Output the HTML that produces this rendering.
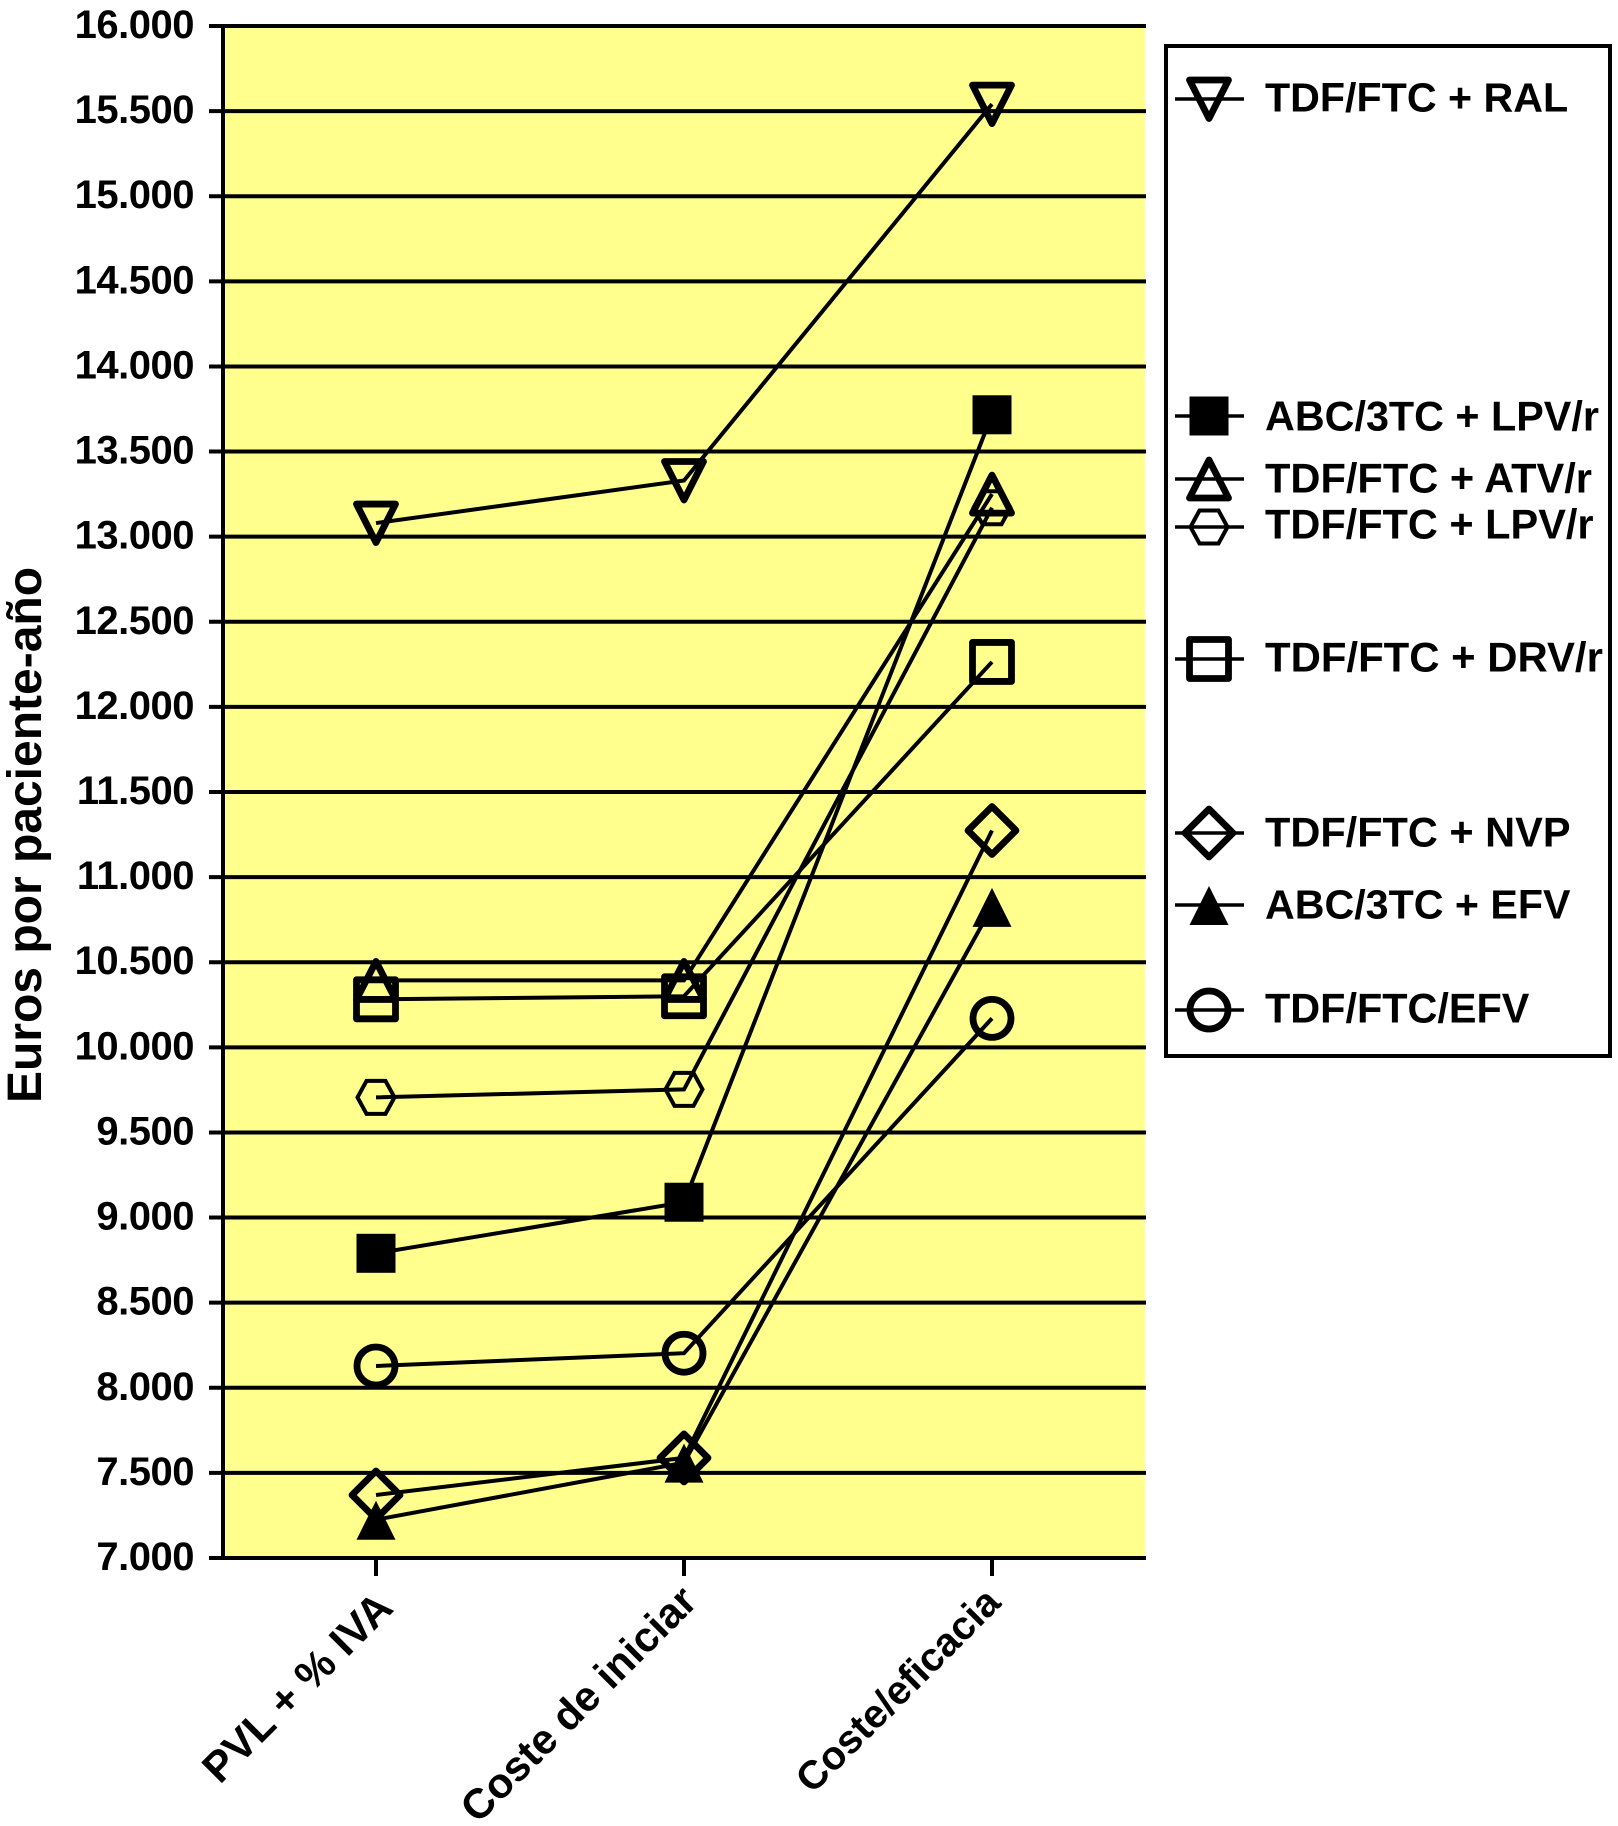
<!DOCTYPE html>
<html lang="es">
<head>
<meta charset="utf-8">
<title>Euros por paciente-año</title>
<style>
html,body{margin:0;padding:0;background:#fff;}
svg{display:block;}
text{font-family:"Liberation Sans",Arial,sans-serif;font-weight:bold;fill:#000;}
</style>
</head>
<body>
<svg id="chart" xmlns="http://www.w3.org/2000/svg" width="1618" height="1826" viewBox="0 0 1618 1826"></svg>
<script>
const categories = ['PVL + % IVA', 'Coste de iniciar', 'Coste/eficacia'];
const yTickValues = [7000, 7500, 8000, 8500, 9000, 9500, 10000, 10500, 11000, 11500, 12000, 12500, 13000, 13500, 14000, 14500, 15000, 15500, 16000];
const yTickLabels = ['7.000', '7.500', '8.000', '8.500', '9.000', '9.500', '10.000', '10.500', '11.000', '11.500', '12.000', '12.500', '13.000', '13.500', '14.000', '14.500', '15.000', '15.500', '16.000'];
const valuesRal = [13080, 13330, 15541];
const valuesAbcLpv = [8790, 9090, 13716];
const valuesAtv = [10393, 10393, 13250];
const valuesTdfLpv = [9706, 9753, 13170];
const valuesDrv = [10282, 10300, 12264];
const valuesNvp = [7370, 7588, 11274];
const valuesEfv = [7225, 7560, 10825];
const valuesTdfEfv = [8128, 8203, 10170];

const NS = 'http://www.w3.org/2000/svg';
const svg = document.getElementById('chart');
const plotLeft = 223, plotRight = 1147, plotTop = 26, plotBottom = 1558;
const bandLeft = 222, bandRight = 1146;
const yMin = 7000, yMax = 16000;

function yScale(v) {
  return plotBottom - (v - yMin) / (yMax - yMin) * (plotBottom - plotTop);
}
function xScale(i) {
  return bandLeft + (i + 0.5) / categories.length * (bandRight - bandLeft);
}
function make(tag, attrs, parent) {
  const el = document.createElementNS(NS, tag);
  for (const k in attrs) el.setAttribute(k, attrs[k]);
  (parent || svg).appendChild(el);
  return el;
}
function hline(parent, x1, x2, y, w) {
  return make('line', {x1: x1, x2: x2, y1: y, y2: y, stroke: '#000', 'stroke-width': w}, parent);
}
function pts(list, cx, cy) {
  return list.map(function (p) { return (cx + p[0]) + ',' + (cy + p[1]); }).join(' ');
}
function drawMarker(parent, type, cx, cy) {
  const open = {fill: 'none', stroke: '#000', 'stroke-width': 6.8, 'stroke-linejoin': 'round'};
  let m;
  if (type === 'triangle-down') {
    m = make('polygon', Object.assign({points: pts([[-19.5, -19], [19.5, -19], [0, 19.5]], cx, cy)}, open), parent);
  } else if (type === 'triangle-up') {
    m = make('polygon', Object.assign({points: pts([[0, -19], [-19.5, 19], [19.5, 19]], cx, cy)}, open), parent);
  } else if (type === 'square-filled') {
    m = make('rect', {x: cx - 19.5, y: cy - 19.5, width: 39, height: 39, fill: '#000'}, parent);
  } else if (type === 'square-open') {
    m = make('rect', Object.assign({x: cx - 19.5, y: cy - 19.5, width: 39, height: 39}, open), parent);
  } else if (type === 'hexagon') {
    m = make('polygon', {points: pts([[-18.5, 0], [-9.5, -16.5], [9.5, -16.5], [18.5, 0], [9.5, 16.5], [-9.5, 16.5]], cx, cy), fill: 'none', stroke: '#000', 'stroke-width': 4}, parent);
  } else if (type === 'diamond') {
    m = make('polygon', Object.assign({points: pts([[0, -24], [24, 0], [0, 24], [-24, 0]], cx, cy)}, open), parent);
  } else if (type === 'triangle-filled') {
    m = make('polygon', {points: pts([[0, -19], [-19.5, 20], [19.5, 20]], cx, cy), fill: '#000'}, parent);
  } else {
    m = make('circle', Object.assign({cx: cx, cy: cy, r: 19}, open), parent);
  }
  
  
  return m;
}

/* plot background */
const plotBg = make('rect', {x: plotLeft, y: plotTop, width: plotRight - plotLeft - 2, height: plotBottom - plotTop, fill: '#FFFF8E'});



/* gridlines, y ticks and labels */
yTickValues.forEach(function (v, i) {
  const y = yScale(v);
  const grid = hline(svg, 209, plotRight - 1, y, 4);
  
  
  const label = make('text', {x: 194, y: y + 12, 'text-anchor': 'end', 'font-size': 40, 'letter-spacing': '-0.5'});
  label.textContent = yTickLabels[i];
  
  
});

/* axes */
const yAxis = make('line', {x1: plotLeft, x2: plotLeft, y1: plotTop, y2: plotBottom, stroke: '#000', 'stroke-width': 4});



/* x ticks and labels */
function drawCategory(i, dx, dy, size) {
  const x = xScale(i);
  const tick = make('line', {x1: x, x2: x, y1: plotBottom, y2: plotBottom + 18, stroke: '#000', 'stroke-width': 4});
  
  
  const label = make('text', {x: 0, y: 0, 'text-anchor': 'end', 'font-size': size, transform: 'translate(' + (x + dx) + ' ' + (plotBottom + dy) + ') rotate(-45)'});
  label.textContent = categories[i];
  
  
}
drawCategory(0, 19, 52, 42.5);
drawCategory(1, 15, 45.5, 42);
drawCategory(2, 10.5, 46.7, 40);

/* y axis title */
const yTitle = make('text', {x: 0, y: 0, 'text-anchor': 'middle', 'font-size': 48, transform: 'translate(41 835) rotate(-90)'});
yTitle.textContent = 'Euros por paciente-año';



/* series */
function drawSeries(name, values, type) {
  const g = make('g', {});
  
  
  const line = make('polyline', {
    points: values.map(function (v, i) { return xScale(i) + ',' + yScale(v); }).join(' '),
    fill: 'none', stroke: '#000', 'stroke-width': 4
  }, g);
  
  
  values.forEach(function (v, i) {
    drawMarker(g, type, xScale(i), yScale(v));
  });
}
drawSeries('tdf-ftc-ral', valuesRal, 'triangle-down');
drawSeries('abc-3tc-lpv', valuesAbcLpv, 'square-filled');
drawSeries('tdf-ftc-atv', valuesAtv, 'triangle-up');
drawSeries('tdf-ftc-lpv', valuesTdfLpv, 'hexagon');
drawSeries('tdf-ftc-drv', valuesDrv, 'square-open');
drawSeries('tdf-ftc-nvp', valuesNvp, 'diamond');
drawSeries('abc-3tc-efv', valuesEfv, 'triangle-filled');
drawSeries('tdf-ftc-efv', valuesTdfEfv, 'circle');

/* bottom axis on top of the plot */
const xAxis = hline(svg, 209, plotRight - 1, plotBottom, 4);



/* legend */
const legendGroup = make('g', {});


const legendBox = make('rect', {x: 1166, y: 46, width: 444, height: 1010, fill: '#fff', stroke: '#000', 'stroke-width': 4}, legendGroup);



function legendEntry(label, type, lineY, baseline, size) {
  const g = make('g', {}, legendGroup);
  
  
  const sample = hline(g, 1175, 1244, lineY, 3.5);
  
  
  drawMarker(g, type, 1209, lineY);
  const t = make('text', {x: 1265, y: baseline, 'font-size': size}, g);
  t.textContent = label;
  
  
}
legendEntry('TDF/FTC + RAL', 'triangle-down', 99, 111.5, 41.2);
legendEntry('ABC/3TC + LPV/r', 'square-filled', 416, 430.5, 41.3);
legendEntry('TDF/FTC + ATV/r', 'triangle-up', 479, 492.5, 41.6);
legendEntry('TDF/FTC + LPV/r', 'hexagon', 527, 538.5, 41.5);
legendEntry('TDF/FTC + DRV/r', 'square-open', 659, 671.5, 41.9);
legendEntry('TDF/FTC + NVP', 'diamond', 833, 846.5, 41.5);
legendEntry('ABC/3TC + EFV', 'triangle-filled', 905, 918.5, 41.2);
legendEntry('TDF/FTC/EFV', 'circle', 1010, 1022.5, 41.4);
</script>
</body>
</html>
